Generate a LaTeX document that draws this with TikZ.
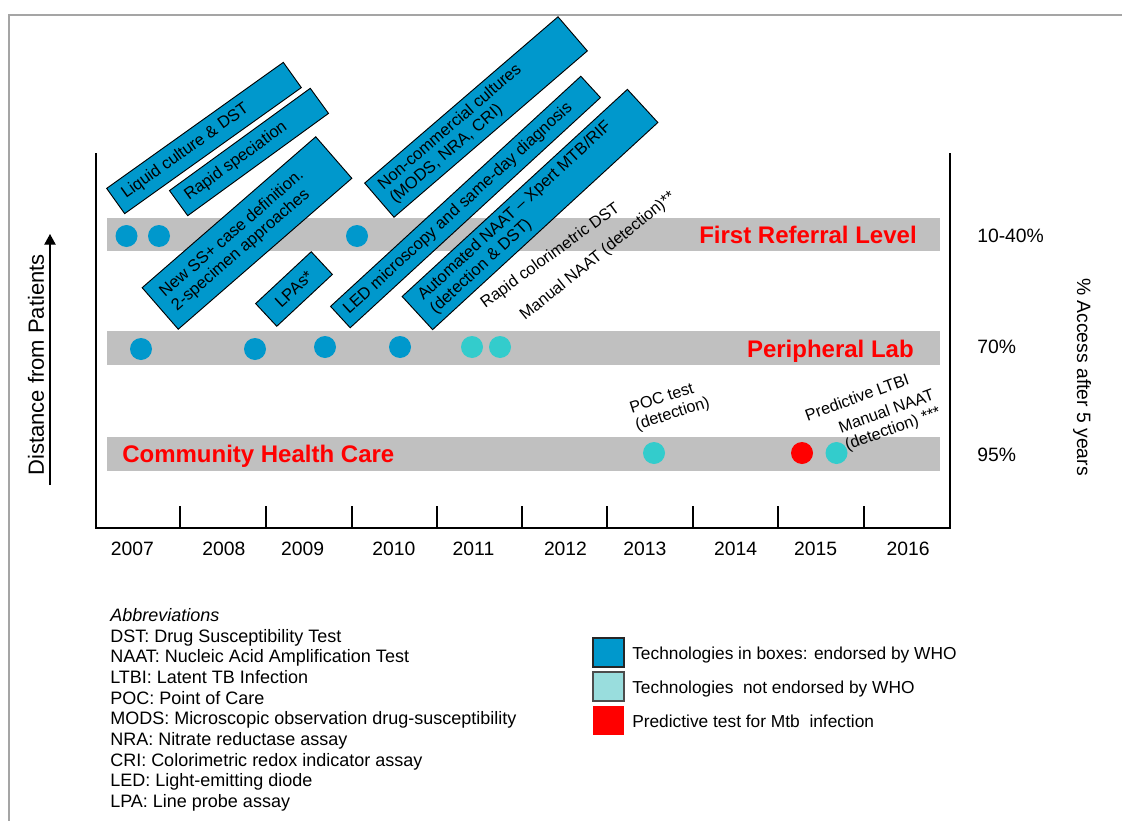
\documentclass[tikz,border=0pt]{standalone}
\usepackage{fontspec}
\setmainfont{Liberation Sans}
\usetikzlibrary{arrows.meta,calc}
\definecolor{tbblue}{RGB}{0,152,204}
\definecolor{tbcyan}{RGB}{51,204,204}
\definecolor{tblight}{RGB}{153,221,221}
\definecolor{bandgray}{RGB}{192,192,192}
\definecolor{framegray}{RGB}{165,165,165}
\definecolor{tbred}{RGB}{255,0,0}
\begin{document}
\begin{tikzpicture}[x=0.75pt,y=-0.75pt,
  techbox/.style={draw=black,line width=0.7pt,fill=tbblue,inner sep=0pt},
  boxtext/.style={font=\fontsize{12.4}{13.6}\selectfont,inner sep=0pt,align=left,anchor=west},
  freetext/.style={font=\fontsize{12.2}{13.6}\selectfont,inner sep=0pt,align=left},
  dot/.style={circle,inner sep=0pt,minimum size=16.5pt},
  bdot/.style={dot,fill=tbblue},
  cdot/.style={dot,fill=tbcyan},
  rdot/.style={dot,fill=tbred},
  band/.style={fill=bandgray},
  bandlabel/.style={font=\fontsize{18}{20}\selectfont\bfseries,text=tbred,inner sep=0pt},
  axislabel/.style={font=\fontsize{14.5}{16}\selectfont,inner sep=0pt},
  axisline/.style={line width=1.1pt,black},
  legbox/.style={minimum width=23.25pt,minimum height=21.75pt,inner sep=0pt,line width=1pt},
  legtext/.style={font=\fontsize{13}{15}\selectfont,inner sep=0pt,anchor=base west},
  abbr/.style={font=\fontsize{13.5}{15}\selectfont,inner sep=0pt,anchor=base west}
]
\useasboundingbox (0,0) rectangle (1122,821);

% outer frame
\draw[framegray,line width=1.1pt] (1122,15) -- (9,15) -- (9,821);

% bands
\fill[band] (107,218) rectangle (940,251);
\fill[band] (107,331) rectangle (940,365);
\fill[band] (107,437) rectangle (940,471);

% axes
\draw[axisline] (96,153) -- (96,528) -- (950,528) -- (950,153);
\foreach \x in {180,266,352,437,522,607,693,778,864}
  \draw[axisline] (\x,506) -- (\x,528);

% years
\foreach \x/\yr in {132.5/2007,224/2008,302.7/2009,394/2010,473.5/2011,565.5/2012,644.8/2013,735.7/2014,815.7/2015,908/2016}
  \node[axislabel,anchor=base] (y\yr) at (\x,555.7) {\yr};

% band labels
\node[bandlabel,anchor=base east] (lfirst) at (917,243) {First Referral Level};
\node[bandlabel,anchor=base east] (lperi) at (914,357) {Peripheral Lab};
\node[bandlabel,anchor=base west] (lcomm) at (122,462.5) {Community Health Care};

% right labels
\node[axislabel,anchor=base west] (p1) at (977,242) {10-40\%};
\node[axislabel,anchor=base west] (p2) at (977,353.5) {70\%};
\node[axislabel,anchor=base west] (p3) at (977,461) {95\%};
\node[axislabel,rotate=-90] (acc) at (1082,377) {\% Access after 5 years};

% left label and arrow
\node[font=\fontsize{16.5}{18}\selectfont,inner sep=0pt,rotate=90] (dist) at (36,365) {Distance from Patients};
\coordinate (arrS) at (50,485);
\coordinate (arrE) at (50,234);
\draw[line width=1pt,-{Triangle[length=8pt,width=8.5pt]}] (arrS) -- (arrE);

% technology boxes
\node[techbox,rotate=35.5,minimum width=162.75pt,minimum height=23.25pt] (b1) at (204,138) {};
\node[boxtext,rotate=35.5] (t1) at ($(b1.west)!7.5pt!(b1.east)$) {Liquid culture \& DST};

\node[techbox,rotate=36,minimum width=130.5pt,minimum height=23.25pt] (b2) at (249,152) {};
\node[boxtext,rotate=36] (t2) at ($(b2.west)!7.5pt!(b2.east)$) {Rapid speciation};

\node[techbox,rotate=41,minimum width=172.5pt,minimum height=41.25pt] (b3) at (247,233) {};
\node[boxtext,rotate=41] (t3) at ($(b3.west)!8.25pt!(b3.east)$) {New SS+ case definition.\\2-specimen approaches};

\node[techbox,rotate=43,minimum width=57pt,minimum height=23.25pt] (b4) at (294,289) {};
\node[boxtext,rotate=43,anchor=center] (t4) at (b4.center) {LPAs*};

\node[techbox,rotate=40.7,minimum width=191.25pt,minimum height=33.75pt] (b5) at (476,117) {};
\node[boxtext,rotate=40.7] (t5) at ($(b5.west)!7.5pt!(b5.east)$) {Non-commercial cultures\\(MODS, NRA, CRI)};

\node[techbox,rotate=42.6,minimum width=255pt,minimum height=21.75pt] (b6) at (465.5,202) {};
\node[boxtext,rotate=42.6] (t6) at ($(b6.west)!6pt!(b6.east)$) {LED microscopy and same-day diagnosis};

\node[techbox,rotate=42.6,minimum width=229.5pt,minimum height=33.75pt] (b7) at (530,209.5) {};
\node[boxtext,rotate=42.6] (t7) at ($(b7.west)!9.75pt!(b7.east)$) {Automated NAAT – Xpert MTB/RIF\\(detection \& DST)};

% free labels
\node[freetext,rotate=36] (f1) at (550.5,256) {Rapid colorimetric DST};
\node[freetext,rotate=39] (f2) at (598,256.5) {Manual NAAT (detection)**};
\node[freetext,rotate=18] (f3) at (670,406) {POC test\\(detection)};
\node[freetext,rotate=20] (f4) at (857,397) {Predictive LTBI};
\node[freetext,rotate=20] (f5) at (890,421) {Manual NAAT\\(detection) ***};

% dots
\node[bdot] (d1) at (126.5,236) {};
\node[bdot] (d2) at (159,236) {};
\node[bdot] (d3) at (357,236) {};
\node[bdot] (d4) at (141,349) {};
\node[bdot] (d5) at (255,349) {};
\node[bdot] (d6) at (325,347) {};
\node[bdot] (d7) at (400,347) {};
\node[cdot] (d8) at (472,347) {};
\node[cdot] (d9) at (500,347) {};
\node[cdot] (d10) at (654,453) {};
\node[rdot] (d11) at (802,453) {};
\node[cdot] (d12) at (836.5,453) {};

% legend
\node[legbox,fill=tbblue,draw=black!85] (lg1) at (608.5,652.5) {};
\node[legbox,fill=tblight,draw=black!70] (lg2) at (608.5,686.5) {};
\node[legbox,fill=tbred] (lg3) at (608.5,720.5) {};
\node[legtext] (lt1) at (632,659) {Technologies in boxes: endorsed by WHO};
\node[legtext] (lt2) at (632,693.5) {Technologies\ \ not endorsed by WHO};
\node[legtext] (lt3) at (632,727.5) {Predictive test for Mtb\ \ infection};

% abbreviations
\node[abbr] (ab0) at (110,621.5) {\itshape Abbreviations};
\node[abbr] (ab1) at (110,642.2) {DST: Drug Susceptibility Test};
\node[abbr] (ab2) at (110,662.8) {NAAT: Nucleic Acid Amplification Test};
\node[abbr] (ab3) at (110,683.5) {LTBI: Latent TB Infection};
\node[abbr] (ab4) at (110,704.2) {POC: Point of Care};
\node[abbr] (ab5) at (110,724.8) {MODS: Microscopic observation drug-susceptibility};
\node[abbr] (ab6) at (110,745.5) {NRA: Nitrate reductase assay};
\node[abbr] (ab7) at (110,766.2) {CRI: Colorimetric redox indicator assay};
\node[abbr] (ab8) at (110,786.8) {LED: Light-emitting diode};
\node[abbr] (ab9) at (110,807.5) {LPA: Line probe assay};
\end{tikzpicture}
\end{document}
